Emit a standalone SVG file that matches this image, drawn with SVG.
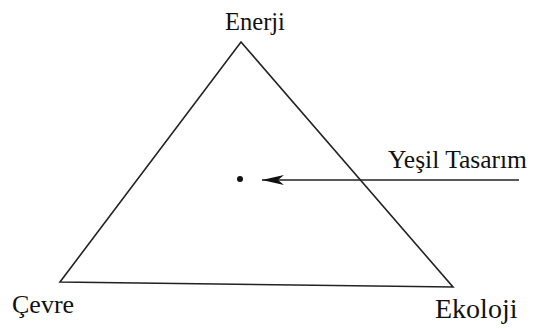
<svg xmlns="http://www.w3.org/2000/svg" width="533" height="329" viewBox="0 0 533 329">
<style>
text{fill:#111;font-size:24px;font-family:"Liberation Serif", "Times New Roman", Times, serif}
.edge{fill:none;stroke:#222;stroke-width:1.6}
</style>
<defs>
<marker id="ah" viewBox="0 0 22 10" refX="22" refY="5" markerWidth="22" markerHeight="10" markerUnits="userSpaceOnUse" orient="auto">
<path d="M22,5 L0,0 L6,5 L0,10 Z" fill="#111"/>
</marker>
</defs>
<rect width="533" height="329" fill="#fff"/>
<g id="triangle"><path class="edge" d="M241,42 L453,287 L60,282 Z"/></g>
<g id="n-enerji"><text x="255" y="30" text-anchor="middle" style="font-size:24.5px">Enerji</text></g>
<g id="n-cevre"><text x="12" y="313" style="font-size:26px">Çevre</text></g>
<g id="n-ekoloji"><text x="435" y="318" style="font-size:28px">Ekoloji</text></g>
<g id="n-yesil"><text x="388" y="168" style="font-size:25.5px">Yeşil Tasarım</text></g>
<g id="n-dot"><circle cx="240" cy="179" r="3" fill="#111"/></g>
<g id="connectors"><line x1="519" y1="180" x2="262" y2="180" stroke="#222" stroke-width="1.6" marker-end="url(#ah)"/></g>
</svg>
